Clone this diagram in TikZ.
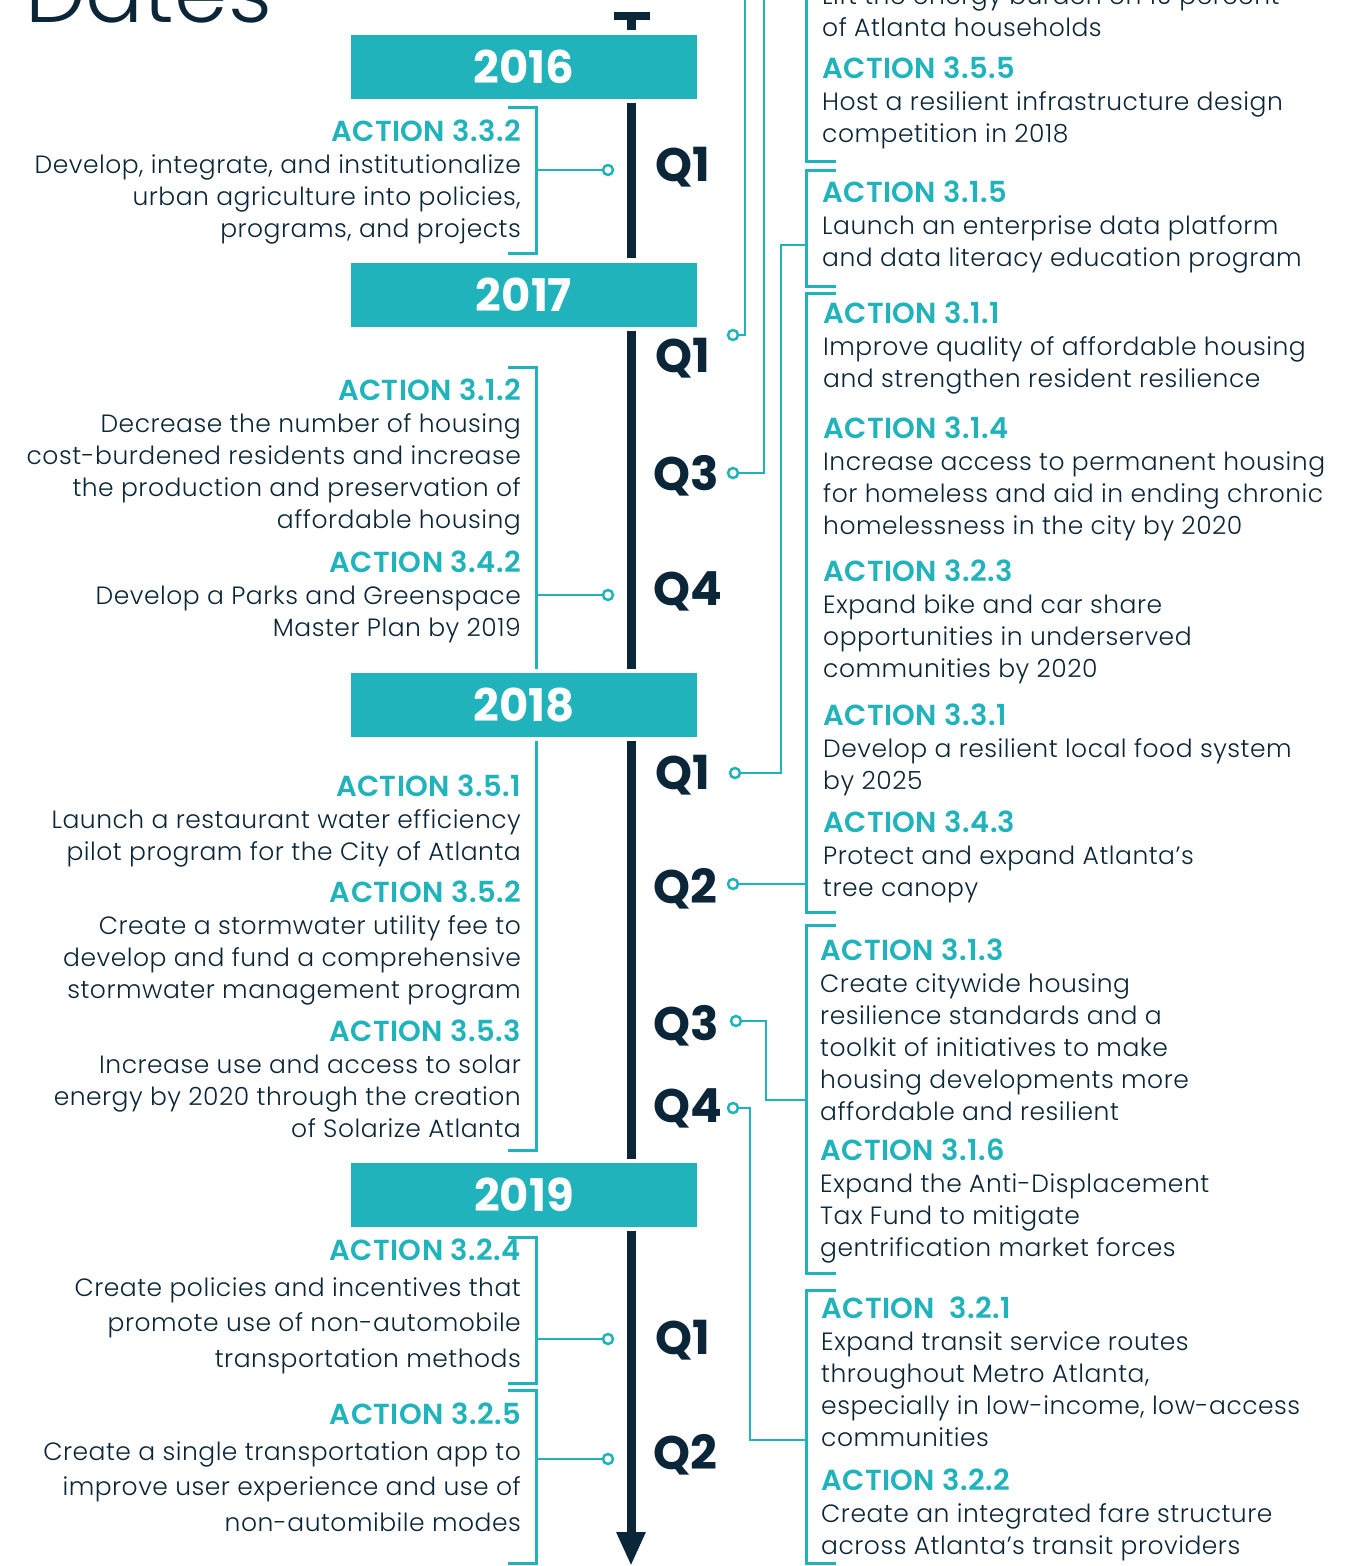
\documentclass[tikz,border=0pt]{standalone}
\usepackage{fontspec}
\setmainfont{Poppins}[UprightFont=* Light, BoldFont=* SemiBold]
\newfontfamily\heavyfont{Poppins}[UprightFont=* Bold]
\usetikzlibrary{arrows.meta}
\definecolor{aqua}{HTML}{21B3BC}
\definecolor{ink}{HTML}{0B2638}
\newcommand{\actn}[1]{{\fontsize{29pt}{32pt}\selectfont\addfontfeature{LetterSpace=1.5}\bfseries\color{aqua}ACTION #1}}

\begin{document}
\begin{tikzpicture}[x=1pt, y=-1pt,
    year/.style={fill=aqua, minimum width=346pt, minimum height=64pt,
      inner sep=0pt, text=white, font=\heavyfont\fontsize{45pt}{45pt}\selectfont},
    qlabel/.style={anchor=west, inner sep=0pt, text=ink,
      font=\heavyfont\fontsize{47pt}{47pt}\selectfont},
    actl/.style={anchor=base east, align=right, inner sep=0pt, text=ink,
      font=\fontsize{25pt}{32pt}\selectfont\addfontfeature{LetterSpace=2}},
    actr/.style={actl, anchor=base west, align=left},
    wide/.style={font=\fontsize{25pt}{35.5pt}\selectfont\addfontfeature{LetterSpace=2}},
    dot/.style={circle, draw=aqua, fill=white, line width=2.5pt,
      minimum size=10pt, inner sep=0pt},
    brk/.style={draw=aqua, line width=3pt},
    link/.style={draw=aqua, line width=2.5pt},
    axis/.style={draw=ink, line width=9pt}
  ]
  \useasboundingbox (0,0) rectangle (1355,1566);
  \clip (0,0) rectangle (1355,1566);

  \node[anchor=base west, inner sep=0pt, text=ink,
    font=\fontsize{86pt}{86pt}\selectfont] (title) at (25,22) {Dates};

  % years
  \node[year] (y2016) at (524,66.5) {2016};
  \node[year] (y2017) at (524,294.5) {2017};
  \node[year] (y2018) at (524,705) {2018};
  \node[year] (y2019) at (524,1195) {2019};

  % timeline
  \fill[ink] (614,12) rectangle (650,20);
  \coordinate (tstem) at (631,20);
  \coordinate (tend) at (631,1566);
  \draw[axis, shorten >=4pt] (tstem) -- (y2016.north -| tstem);
  \draw[axis, shorten <=4pt, shorten >=4pt] (y2016.south -| tstem) -- (y2017.north -| tstem);
  \draw[axis, shorten <=4pt, shorten >=4pt] (y2017.south -| tstem) -- (y2018.north -| tstem);
  \draw[axis, shorten <=4pt, shorten >=4pt] (y2018.south -| tstem) -- (y2019.north -| tstem);
  \draw[axis, shorten <=4pt, -{Triangle[width=27pt, length=34pt]}] (y2019.south -| tstem) -- (tend);

  % quarters
  \node[qlabel] (q16a) at (655,167) {Q1};
  \node[qlabel] (q17a) at (655,358) {Q1};
  \node[qlabel] (q17c) at (653,476) {Q3};
  \node[qlabel] (q17d) at (653,591) {Q4};
  \node[qlabel] (q18a) at (655,775) {Q1};
  \node[qlabel] (q18b) at (653,889) {Q2};
  \node[qlabel] (q18c) at (653,1026) {Q3};
  \node[qlabel] (q18d) at (653,1108) {Q4};
  \node[qlabel] (q19a) at (655,1340) {Q1};
  \node[qlabel] (q19b) at (653,1455) {Q2};

  % left actions (placed at the baseline of their last line)
  \node[actl] (a332) at (521,237) {\actn{3.3.2}\\Develop, integrate, and institutionalize\\urban agriculture into policies,\\programs, and projects};
  \node[actl] (a312) at (521,528) {\actn{3.1.2}\\Decrease the number of housing\\cost-burdened residents and increase\\the production and preservation of\\affordable housing};
  \node[actl] (a342) at (521,636) {\actn{3.4.2}\\Develop a Parks and Greenspace\\Master Plan by 2019};
  \node[actl] (a351) at (521,860) {\actn{3.5.1}\\Launch a restaurant water efficiency\\pilot program for the City of Atlanta};
  \node[actl] (a352) at (521,998) {\actn{3.5.2}\\Create a stormwater utility fee to\\develop and fund a comprehensive\\stormwater management program};
  \node[actl] (a353) at (521,1137) {\actn{3.5.3}\\Increase use and access to solar\\energy by 2020 through the creation\\of Solarize Atlanta};
  \node[actl, wide] (a324) at (521,1367) {\actn{3.2.4}\\Create policies and incentives that\\promote use of non-automobile\\transportation methods};
  \node[actl, wide] (a325) at (521,1531) {\actn{3.2.5}\\Create a single transportation app to\\improve user experience and use of\\non-automibile modes};

  % right actions
  \node[actr] (a354) at (822,36) {Lift the energy burden on 10 percent\\of Atlanta households};
  \node[actr] (a355) at (822,142) {\actn{3.5.5}\\Host a resilient infrastructure design\\competition in 2018};
  \node[actr] (a315) at (822,266) {\actn{3.1.5}\\Launch an enterprise data platform\\and data literacy education program};
  \node[actr] (a311) at (823,387) {\actn{3.1.1}\\Improve quality of affordable housing\\and strengthen resident resilience};
  \node[actr] (a314) at (823,534) {\actn{3.1.4}\\Increase access to permanent housing\\for homeless and aid in ending chronic\\homelessness in the city by 2020};
  \node[actr] (a323) at (823,677) {\actn{3.2.3}\\Expand bike and car share\\opportunities in underserved\\communities by 2020};
  \node[actr] (a331) at (823,789) {\actn{3.3.1}\\Develop a resilient local food system\\by 2025};
  \node[actr] (a343) at (823,896) {\actn{3.4.3}\\Protect and expand Atlanta’s\\tree canopy};
  \node[actr] (a313) at (820,1120) {\actn{3.1.3}\\Create citywide housing\\resilience standards and a\\toolkit of initiatives to make\\housing developments more\\affordable and resilient};
  \node[actr] (a316) at (820,1256) {\actn{3.1.6}\\Expand the Anti-Displacement\\Tax Fund to mitigate\\gentrification market forces};
  \node[actr] (a321) at (821,1446) {\actn{\ 3.2.1}\\Expand transit service routes\\throughout Metro Atlanta,\\especially in low-income, low-access\\communities};
  \node[actr] (a322) at (821,1554) {\actn{3.2.2}\\Create an integrated fare structure\\across Atlanta’s transit providers};

  % left brackets
  \draw[brk] (508,107) -| (536,253) -- (508,253);
  \draw[brk] (508,367) -| (536,669);
  \draw[brk] (536,741) |- (508,1150);
  \draw[brk] (508,1237) -| (536,1383) -- (508,1383);
  \draw[brk] (508,1390) -| (536,1563) -- (508,1563);

  % right brackets
  \draw[brk] (806,-5) |- (836,161);
  \draw[brk] (836,170) -| (806,286) -- (836,286);
  \draw[brk] (836,293) -| (806,912) -- (836,912);
  \draw[brk] (836,925) -| (806,1273) -- (836,1273);
  \draw[brk] (836,1290) -| (806,1563) -- (836,1563);

  % dots
  \node[dot] (c16a) at (608,170) {};
  \node[dot] (c17d) at (608,595) {};
  \node[dot] (c19a) at (608,1339) {};
  \node[dot] (c19b) at (608,1459) {};
  \node[dot] (c17a) at (733,335) {};
  \node[dot] (c17c) at (733,473) {};
  \node[dot] (c18a) at (735,773) {};
  \node[dot] (c18b) at (733,884) {};
  \node[dot] (c18c) at (736,1021) {};
  \node[dot] (c18d) at (733,1108) {};

  % links
  \coordinate (j16) at (536,170);
  \coordinate (j17) at (536,595);
  \coordinate (j19a) at (536,1339);
  \coordinate (j19b) at (536,1459);
  \coordinate (t1) at (745,-5);
  \coordinate (t2) at (764,-5);
  \coordinate (kB) at (781,245);
  \coordinate (jB) at (806,245);
  \coordinate (jC) at (806,884);
  \coordinate (kD) at (766,1100);
  \coordinate (jD) at (806,1100);
  \coordinate (kE) at (750,1440);
  \coordinate (jE) at (806,1440);
  \draw[link] (c16a) -- (j16);
  \draw[link] (c17d) -- (j17);
  \draw[link] (c19a) -- (j19a);
  \draw[link] (c19b) -- (j19b);
  \draw[link] (c17a) -| (t1);
  \draw[link] (c17c) -| (t2);
  \draw[link] (c18a) -| (kB) -- (jB);
  \draw[link] (c18b) -- (jC);
  \draw[link] (c18c) -| (kD) -- (jD);
  \draw[link] (c18d) -| (kE) -- (jE);
\end{tikzpicture}
\end{document}
